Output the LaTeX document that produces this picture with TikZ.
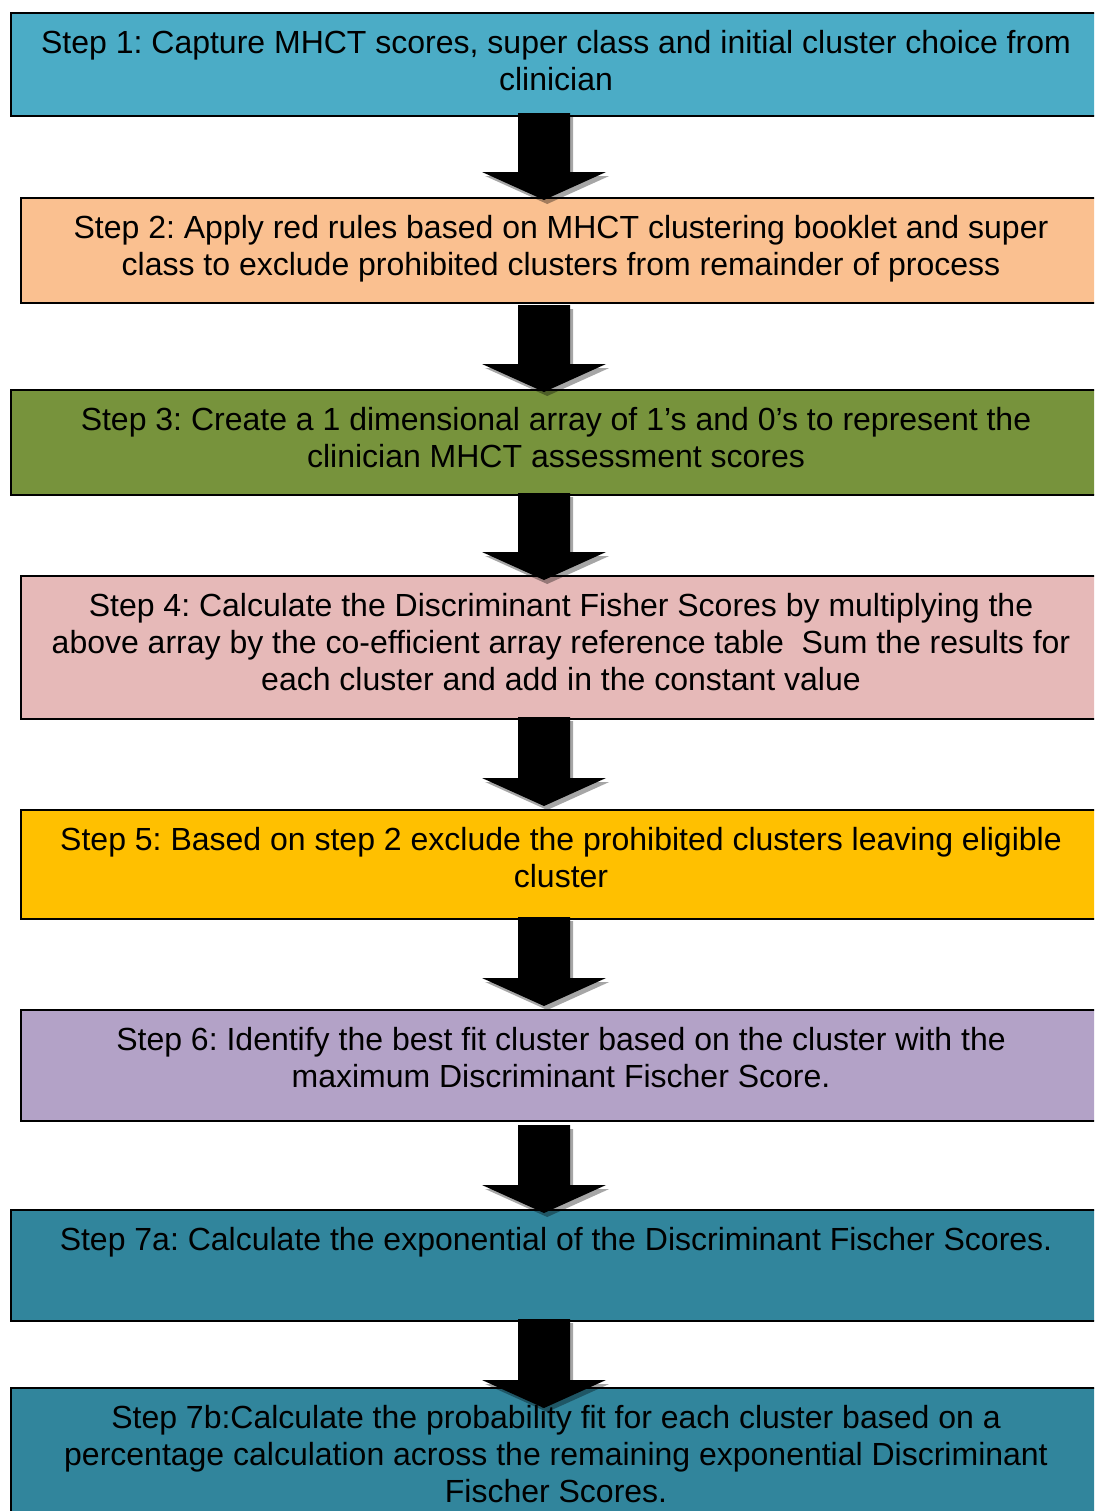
\documentclass[tikz,border=0pt]{standalone}
\usepackage{fontspec}
\setmainfont{Liberation Sans}
\usetikzlibrary{calc,shadows}
\frenchspacing

\definecolor{stepone}{HTML}{4BACC6}
\definecolor{steptwo}{HTML}{FAC090}
\definecolor{stepthree}{HTML}{77933C}
\definecolor{stepfour}{HTML}{E6B9B8}
\definecolor{stepfive}{HTML}{FFC000}
\definecolor{stepsix}{HTML}{B3A2C7}
\definecolor{stepseven}{HTML}{31859C}

% text of one box: width, height, lines
\newcommand{\steplines}[3]{\parbox[c][#2][t]{#1}{\centering\rule{0pt}{20pt}#3}}

\tikzset{
  stepbox/.style={draw=black, line width=1pt, anchor=north west, inner sep=0pt,
    font=\fontsize{16}{18.5}\selectfont},
  blockarrow/.style={fill=black,
    drop shadow={shadow xshift=1.6pt, shadow yshift=-2pt, fill=black, opacity=.35},
    to path={($(\tikztostart)+(-26,0)$) -- ($(\tikztotarget)+(-26,-28)$)
      -- ($(\tikztotarget)+(-62,-28)$) -- (\tikztotarget)
      -- ($(\tikztotarget)+(62,-28)$) -- ($(\tikztotarget)+(26,-28)$)
      -- ($(\tikztostart)+(26,0)$) -- cycle}}
}

\begin{document}
\begin{tikzpicture}[x=0.5pt, y=-0.5pt]
\useasboundingbox (0,0) rectangle (1094,1511);
\clip (0,0) rectangle (1094,1511);

\node[stepbox, fill=stepone] (s1) at (10,12) {\steplines{545pt}{51.5pt}{Step 1: Capture MHCT scores, super class and initial cluster choice from\\clinician}};
\node[stepbox, fill=steptwo] (s2) at (20,197) {\steplines{540pt}{52.5pt}{Step 2: Apply red rules based on MHCT clustering booklet and super\\class to exclude prohibited clusters from remainder of process}};
\node[stepbox, fill=stepthree] (s3) at (10,389) {\steplines{545pt}{52.5pt}{Step 3: Create a 1 dimensional array of 1’s and 0’s to represent the\\clinician MHCT assessment scores}};
\node[stepbox, fill=stepfour] (s4) at (20,575) {\steplines{540pt}{71.5pt}{Step 4: Calculate the Discriminant Fisher Scores by multiplying the\\above array by the co-efficient array reference table\ \ Sum the results for\\each cluster and add in the constant value}};
\node[stepbox, fill=stepfive] (s5) at (20,809) {\steplines{540pt}{54.5pt}{Step 5: Based on step 2 exclude the prohibited clusters leaving eligible\\cluster}};
\node[stepbox, fill=stepsix] (s6) at (20,1009) {\steplines{540pt}{55.5pt}{Step 6: Identify the best fit cluster based on the cluster with the\\maximum Discriminant Fischer Score.}};
\node[stepbox, fill=stepseven] (s7a) at (10,1209) {\steplines{545pt}{55.5pt}{Step 7a: Calculate the exponential of the Discriminant Fischer Scores.}};
\node[stepbox, fill=stepseven] (s7b) at (10,1387) {\steplines{545pt}{72pt}{Step 7b:Calculate the probability fit for each cluster based on a\\percentage calculation across the remaining exponential Discriminant\\Fischer Scores.}};

% arrows down the middle
\coordinate (ax) at (544,0);
\path[blockarrow] ($(s1.south -| ax)+(0,-4)$) to ($(s2.north -| ax)+(0,3)$);
\path[blockarrow] ($(s2.south -| ax)+(0,1)$) to ($(s3.north -| ax)+(0,3)$);
\path[blockarrow] ($(s3.south -| ax)+(0,-3)$) to ($(s4.north -| ax)+(0,5)$);
\path[blockarrow] ($(s4.south -| ax)+(0,-3)$) to ($(s5.north -| ax)+(0,-3)$);
\path[blockarrow] ($(s5.south -| ax)+(0,-3)$) to ($(s6.north -| ax)+(0,-3)$);
\path[blockarrow] ($(s6.south -| ax)+(0,3)$) to ($(s7a.north -| ax)+(0,4)$);
\path[blockarrow] ($(s7a.south -| ax)+(0,-3)$) to ($(s7b.north -| ax)+(0,21)$);

\end{tikzpicture}
\end{document}
